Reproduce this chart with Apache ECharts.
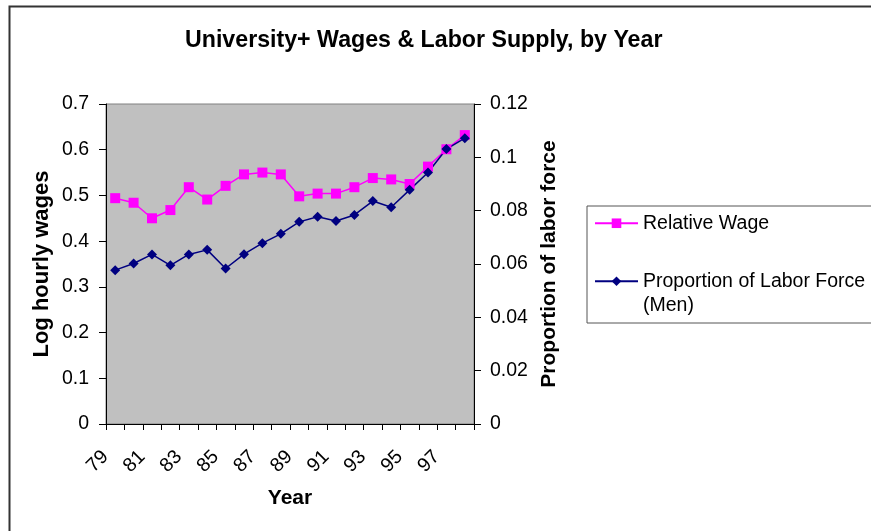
<!DOCTYPE html>
<html>
<head>
<meta charset="utf-8">
<script src="https://cdn.jsdelivr.net/npm/echarts@6/dist/echarts.min.js"></script>
<style>html,body{margin:0;padding:0;background:#fff}#c{width:871px;height:531px}</style>
</head>
<body>
<div id="c"></div>
<script>
const years = ['79','80','81','82','83','84','85','86','87','88','89','90','91','92','93','94','95','96','97','98'];
const relativeWage = [0.494,0.484,0.450,0.468,0.518,0.491,0.521,0.546,0.550,0.546,0.498,0.504,0.504,0.518,0.538,0.535,0.525,0.563,0.601,0.632];
const laborForceMen = [0.0577,0.0602,0.0636,0.0595,0.0636,0.0653,0.0583,0.0637,0.0678,0.0713,0.0758,0.0777,0.0761,0.0784,0.0836,0.0813,0.0878,0.0943,0.1031,0.1072];
const titleText = 'University+ Wages & Labor Supply, by Year';
const leftName = 'Log hourly wages';
const rightName = 'Proportion of labor force';
const xName = 'Year';
const seriesNames = ['Relative Wage', 'Proportion of Labor Force'];
const legendLabels = {'Relative Wage': 'Relative Wage', 'Proportion of Labor Force': '\nProportion of Labor Force\n(Men)'};

const FONT = '"Liberation Sans", Arial, sans-serif';
const chart = echarts.init(document.getElementById('c'), null, {renderer: 'canvas'});
chart.setOption({
  backgroundColor: '#ffffff',
  animation: false,
  graphic: [{
    type: 'rect', left: 7, top: 4, z: -10, silent: true,
    shape: {x: 0, y: 0, width: 900, height: 600},
    style: {fill: 'none', stroke: '#333333', lineWidth: 2}
  }],
  title: {
    text: titleText, left: 185, top: 29, padding: 0,
    textStyle: {fontFamily: FONT, fontSize: 23.2, fontWeight: 'bold', color: '#000'}
  },
  legend: {
    orient: 'vertical', left: 587, top: 206,
    padding: [5, 10, 5, 7], itemGap: 9,
    itemWidth: 43, itemHeight: 12,
    borderColor: '#555555', borderWidth: 1,
    selectedMode: false,
    data: seriesNames,
    formatter: function (n) { return legendLabels[n]; },
    textStyle: {fontFamily: FONT, fontSize: 19.5, lineHeight: 24.5, color: '#000'}
  },
  grid: {
    left: 106, right: 397, top: 104, bottom: 107,
    show: true, backgroundColor: '#C0C0C0', borderColor: '#808080', borderWidth: 1
  },
  xAxis: {
    type: 'category', data: years, boundaryGap: true,
    name: xName, nameLocation: 'middle', nameGap: 64,
    nameTextStyle: {fontFamily: FONT, fontSize: 21, fontWeight: 'bold', color: '#000'},
    axisLine: {show: true, lineStyle: {color: '#000', width: 1}},
    axisTick: {show: true, interval: 0, alignWithLabel: false, length: 6, lineStyle: {color: '#000'}},
    axisLabel: {interval: 1, rotate: 45, margin: 20, padding: [0, 14, 0, 0], fontFamily: FONT, fontSize: 19.5, color: '#000'},
    splitLine: {show: false}
  },
  yAxis: [{
    type: 'value', position: 'left', min: 0, max: 0.7, interval: 0.1,
    name: leftName, nameLocation: 'middle', nameGap: 53,
    nameTextStyle: {fontFamily: FONT, fontSize: 22, fontWeight: 'bold', color: '#000'},
    axisLine: {show: true, lineStyle: {color: '#000', width: 1}},
    axisTick: {show: true, length: 7, lineStyle: {color: '#000'}},
    axisLabel: {margin: 17, fontFamily: FONT, fontSize: 19.5, color: '#000'},
    splitLine: {show: false}
  }, {
    type: 'value', position: 'right', min: 0, max: 0.12, interval: 0.02,
    name: rightName, nameLocation: 'middle', nameGap: 65,
    nameTextStyle: {fontFamily: FONT, fontSize: 21, fontWeight: 'bold', color: '#000'},
    axisLine: {show: true, lineStyle: {color: '#000', width: 1}},
    axisTick: {show: true, length: 7, lineStyle: {color: '#000'}},
    axisLabel: {margin: 16, fontFamily: FONT, fontSize: 19.5, color: '#000'},
    splitLine: {show: false}
  }],
  series: [{
    name: seriesNames[0], type: 'line', yAxisIndex: 0, data: relativeWage,
    symbol: 'rect', symbolSize: 10, showAllSymbol: true,
    lineStyle: {color: '#FF00FF', width: 1.5},
    itemStyle: {color: '#FF00FF'}
  }, {
    name: seriesNames[1], type: 'line', yAxisIndex: 1, data: laborForceMen,
    symbol: 'diamond', symbolSize: 10, showAllSymbol: true,
    lineStyle: {color: '#000080', width: 1.5},
    itemStyle: {color: '#000080'}
  }]
});
</script>
</body>
</html>
